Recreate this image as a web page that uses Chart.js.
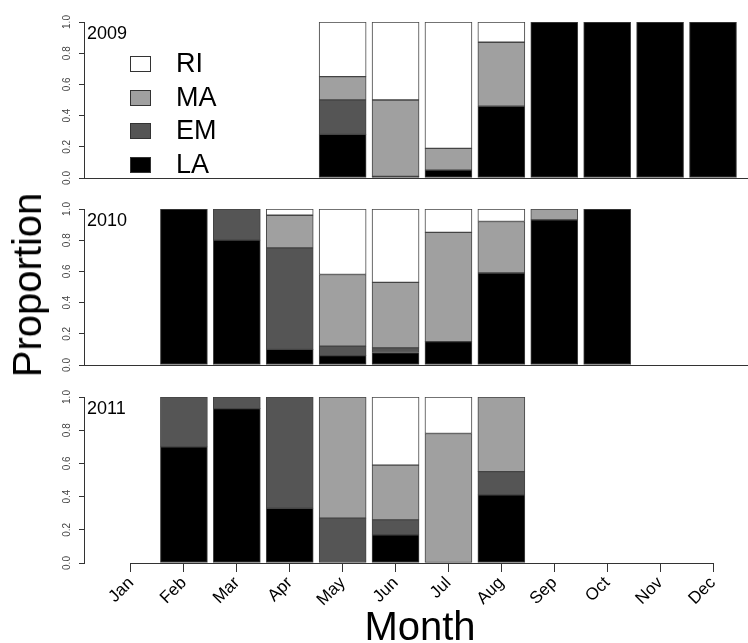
<!DOCTYPE html>
<html>
<head>
<meta charset="utf-8">
<script src="https://cdn.jsdelivr.net/npm/chart.js@4"></script>
<style>
  body { margin: 0; background: #fff; width: 748px; height: 643px; position: relative; overflow: hidden;
         font-family: 'Liberation Sans', Arial, sans-serif; }
  canvas { position: absolute; left: 0; }
  .lab { position: absolute; color: #000; font-size: 40px; line-height: 1; white-space: nowrap; }
  #ylab { left: 27px; top: 285px; transform: translate(-50%, -50%) rotate(-90deg); }
  #xlab { left: 420px; top: 606px; transform: translateX(-50%); }
</style>
</head>
<body>
<canvas id="p2009" width="748" height="190" style="top:0"></canvas>
<canvas id="p2010" width="748" height="190" style="top:190px"></canvas>
<canvas id="p2011" width="748" height="263" style="top:380px"></canvas>
<div class="lab" id="ylab">Proportion</div>
<div class="lab" id="xlab">Month</div>

<script>
const months = ['Jan', 'Feb', 'Mar', 'Apr', 'May', 'Jun', 'Jul', 'Aug', 'Sep', 'Oct', 'Nov', 'Dec'];
const monthNums = [1, 2, 3, 4, 5, 6, 7, 8, 9, 10, 11, 12];
const yTicks = [0, 0.2, 0.4, 0.6, 0.8, 1.0];

// proportions per month, bottom to top: LA, EM, MA, RI
const la2009 = [null, null, null, null, 0.28, 0.01, 0.05, 0.46, 1, 1, 1, 1];
const em2009 = [null, null, null, null, 0.22, null, null, null, null, null, null, null];
const ma2009 = [null, null, null, null, 0.15, 0.49, 0.14, 0.41, null, null, null, null];
const ri2009 = [null, null, null, null, 0.35, 0.50, 0.81, 0.13, null, null, null, null];

const la2010 = [null, 1, 0.80, 0.10, 0.06, 0.08, 0.15, 0.59, 0.93, 1, null, null];
const em2010 = [null, null, 0.20, 0.65, 0.06, 0.03, null, null, null, null, null, null];
const ma2010 = [null, null, null, 0.21, 0.46, 0.42, 0.70, 0.33, 0.07, null, null, null];
const ri2010 = [null, null, null, 0.04, 0.42, 0.47, 0.15, 0.08, null, null, null, null];

const la2011 = [null, 0.70, 0.93, 0.33, null, 0.17, null, 0.41, null, null, null, null];
const em2011 = [null, 0.30, 0.07, 0.67, 0.27, 0.09, null, 0.14, null, null, null, null];
const ma2011 = [null, null, null, null, 0.73, 0.33, 0.78, 0.45, null, null, null, null];
const ri2011 = [null, null, null, null, null, 0.41, 0.22, null, null, null, null, null];

const fills = { LA: '#000000', EM: '#555555', MA: '#a0a0a0', RI: '#ffffff' };
const FONT = '"Liberation Sans", Arial, sans-serif';

// year tag, in-plot legend and the short x axis line of the bottom panel
const panelDecor = {
  id: 'panelDecor',
  afterDraw(chart, args, opts) {
    const ctx = chart.ctx, a = chart.chartArea;
    ctx.save();
    ctx.fillStyle = '#000';
    ctx.font = '18px ' + FONT;
    ctx.textBaseline = 'alphabetic';
    ctx.fillText(opts.year, a.left + 3, a.top + 17);

    if (opts.axisLine) {
      const x = chart.scales.x;
      ctx.strokeStyle = '#333';
      ctx.lineWidth = 1;
      ctx.beginPath();
      ctx.moveTo(x.getPixelForValue(monthNums[0]), Math.round(x.top) + 0.5);
      ctx.lineTo(x.getPixelForValue(monthNums[monthNums.length - 1]), Math.round(x.top) + 0.5);
      ctx.stroke();
    }

    if (opts.legend) {
      const sets = chart.data.datasets.slice().reverse();
      sets.forEach((ds, i) => {
        const cy = Math.round(a.top + 42 + i * 33.7);
        ctx.fillStyle = ds.backgroundColor;
        ctx.fillRect(a.left + 46, cy - 8, 21, 16);
        ctx.strokeStyle = '#333';
        ctx.strokeRect(a.left + 46.5, cy - 7.5, 20, 15);
        ctx.fillStyle = '#000';
        ctx.font = '27px ' + FONT;
        ctx.textBaseline = 'middle';
        ctx.fillText(ds.label, a.left + 92, cy + 1);
      });
    }
    ctx.restore();
  }
};

function makePanel(id, year, la, em, ma, ri, cfg) {
  const datasets = [['LA', la], ['EM', em], ['MA', ma], ['RI', ri]].map(([name, vals]) => ({
    label: name,
    data: vals,
    backgroundColor: fills[name],
    borderColor: '#444',
    borderWidth: 1,
    borderSkipped: false,
    barThickness: 47,
    stack: 'all'
  }));

  new Chart(document.getElementById(id), {
    type: 'bar',
    data: { labels: monthNums, datasets },
    options: {
      responsive: false,
      animation: false,
      layout: { padding: { top: cfg.padTop, right: 1, left: 0, bottom: 0 } },
      plugins: {
        legend: { display: false },
        tooltip: { enabled: false },
        panelDecor: { year, legend: cfg.legend, axisLine: cfg.showMonths }
      },
      scales: {
        x: {
          type: 'linear',
          stacked: true,
          offset: false,
          min: 0.1117,
          max: 12.6426,
          afterBuildTicks: s => { s.ticks = monthNums.map(v => ({ value: v })); },
          afterFit: s => { s.height = cfg.xHeight; },
          ticks: {
            display: cfg.showMonths,
            autoSkip: false,
            minRotation: 45,
            maxRotation: 45,
            padding: 1,
            color: '#000',
            font: { family: FONT, size: 17 },
            callback: v => months[v - 1]
          },
          grid: {
            display: cfg.showMonths,
            offset: false,
            drawOnChartArea: false,
            tickLength: 9,
            color: '#333'
          },
          border: { display: !cfg.showMonths, color: '#333' }
        },
        y: {
          stacked: true,
          min: 0,
          max: 1,
          afterBuildTicks: s => { s.ticks = yTicks.map(v => ({ value: v })); },
          afterFit: s => { s.width = 84; },
          ticks: {
            minRotation: 90,
            maxRotation: 90,
            crossAlign: 'center',
            padding: 5,
            color: '#444',
            font: { family: FONT, size: 10 },
            callback: v => v.toFixed(1)
          },
          grid: { drawOnChartArea: false, tickLength: 5, color: '#333' },
          border: { color: '#333' }
        }
      }
    },
    plugins: [panelDecor]
  });
}

makePanel('p2009', '2009', la2009, em2009, ma2009, ri2009, { padTop: 22, xHeight: 12, legend: true, showMonths: false });
makePanel('p2010', '2010', la2010, em2010, ma2010, ri2010, { padTop: 19, xHeight: 15, legend: false, showMonths: false });
makePanel('p2011', '2011', la2011, em2011, ma2011, ri2011, { padTop: 17, xHeight: 80, legend: false, showMonths: true });
</script>
</body>
</html>
